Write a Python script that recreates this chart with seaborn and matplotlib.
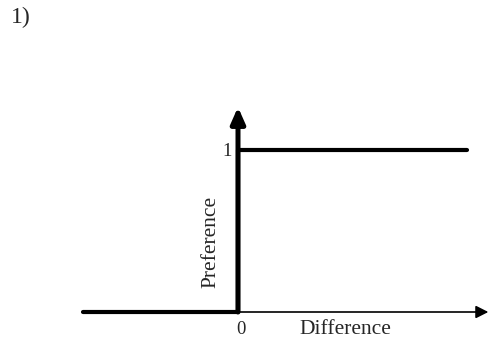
import matplotlib
matplotlib.use("Agg")
import matplotlib.pyplot as plt
import seaborn as sns
import pandas as pd

# Data: step preference function
diff_values = [-1.0, 0.0, 0.0, 1.48]
pref_values = [0.0, 0.0, 1.0, 1.0]
tick_labels_x = ["0"]
tick_labels_y = ["1"]
panel_label = "1)"
x_title = "Difference"
y_title = "Preference"

sns.set_style("white")
plt.rcParams['font.family'] = ['Liberation Serif', 'DejaVu Serif']

W, H = 503, 353
fig = plt.figure(figsize=(W / 100, H / 100), dpi=100)
ax = fig.add_axes([0, 0, 1, 1])

# pixel mapping: x=0 -> 238 px, 1 unit = 155 px; y=0 -> 312 px, 1 unit = 162 px
x0p, sx = 238, 155
y0p, sy = 312, 162
ax.set_xlim((0 - x0p) / sx, (W - x0p) / sx)
ax.set_ylim((y0p - H) / sy, y0p / sy)
ax.axis("off")

df = pd.DataFrame({"Difference": diff_values, "Preference": pref_values})

# thin x axis with arrow
ax.annotate("", xy=(1.615, 0), xytext=(0, 0),
            arrowprops=dict(arrowstyle="-|>,head_length=0.75,head_width=0.38",
                            mutation_scale=10, color="black", lw=1.2,
                            shrinkA=0, shrinkB=0))
# thick y axis with arrow
ax.annotate("", xy=(0, 1.265), xytext=(0, 0),
            arrowprops=dict(arrowstyle="-|>,head_length=0.95,head_width=0.42",
                            mutation_scale=10, color="black", lw=3.6,
                            shrinkA=0, shrinkB=0))

sns.lineplot(data=df, x="Difference", y="Preference", sort=False,
             color="black", linewidth=3.0, ax=ax, estimator=None)
ax.set_xlim((0 - x0p) / sx, (W - x0p) / sx)
ax.set_ylim((y0p - H) / sy, y0p / sy)
ax.axis("off")

fs = 15.5
ax.text(0.02, -0.055, tick_labels_x[0], ha="center", va="top", fontsize=13.5)
ax.text(-0.07, 0.99, tick_labels_y[0], ha="center", va="center", fontsize=13.5)
ax.text((345 - x0p) / sx, -0.05, x_title, ha="center", va="top", fontsize=fs)
ax.text((211 - x0p) / sx, (y0p - 242) / sy, y_title, ha="center", va="center",
        rotation=90, fontsize=fs)
fig.text(11 / W, 1 - 17 / H, panel_label, ha="left", va="center", fontsize=17)

fig.savefig("out.png", dpi=100, facecolor="white")
